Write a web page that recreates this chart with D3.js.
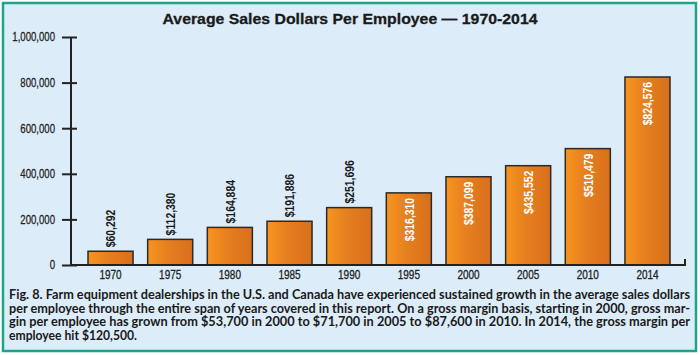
<!DOCTYPE html>
<html><head><meta charset="utf-8">
<script src="https://cdn.jsdelivr.net/npm/d3@7/dist/d3.min.js"></script>
<style>
html,body{margin:0;padding:0;background:#fff;}
svg{display:block;}
</style></head>
<body>
<svg id="c" width="700" height="355"></svg>
<script>
const years = ["1970","1975","1980","1985","1990","1995","2000","2005","2010","2014"];
const sales = [60292,112380,164884,191886,251696,316310,387099,435552,510479,824576];
const yTicks = [0,200000,400000,600000,800000,1000000];
const title = "Average Sales Dollars Per Employee \u2014 1970-2014";
const captionLines = [
  "Fig. 8. Farm equipment dealerships in the U.S. and Canada have experienced sustained growth in the average sales dollars",
  "per employee through the entire span of years covered in this report. On a gross margin basis, starting in 2000, gross mar-",
  "gin per employee has grown from $53,700 in 2000 to $71,700 in 2005 to $87,600 in 2010. In 2014, the gross margin per",
  "employee hit $120,500."
];

const svg = d3.select("#c");
const sans = "'Liberation Sans',Arial,sans-serif";
const SX = 0.8; // condensed look

// panel
svg.append("rect").attr("x",3).attr("y",3).attr("width",693).attr("height",348)
  .attr("fill","#dcecf8").attr("stroke","#1ba68a").attr("stroke-width",2.5);

const defs = svg.append("defs");
const g = defs.append("linearGradient").attr("id","barg").attr("x1","0").attr("x2","1").attr("y1","0").attr("y2","0");
g.append("stop").attr("offset","0").attr("stop-color","#f7951f");
g.append("stop").attr("offset","0.45").attr("stop-color","#e57f1f");
g.append("stop").attr("offset","1").attr("stop-color","#d96f1c");

const x = d3.scaleBand().domain(years).range([71,687]).paddingInner(0.245).paddingOuter(0.285);
const y = d3.scaleLinear().domain([0,1000000]).range([265,37]);

// title
svg.append("text").attr("x",350).attr("y",24).attr("text-anchor","middle")
  .attr("font-family",sans).attr("font-weight","bold")
  .attr("font-size",15.5).attr("fill","#1a1a1a")
  .attr("stroke","#1a1a1a").attr("stroke-width",0.3)
  .attr("textLength",375).attr("lengthAdjust","spacingAndGlyphs").text(title);

// y axis
const ya = svg.append("g").attr("transform","translate(71,0)")
  .call(d3.axisLeft(y).tickValues(yTicks).tickSize(9).tickPadding(7).tickFormat(d3.format(",")));
ya.select(".domain").attr("stroke","#222").attr("stroke-width",2).attr("d","M0,"+y(1000000)+"V"+y(0));
ya.selectAll(".tick line").attr("stroke","#222").attr("stroke-width",2).attr("x2",6).attr("x1",-9);
ya.selectAll(".tick text").attr("font-family",sans).attr("font-size",12).attr("fill","#222")
  .attr("stroke","#222").attr("stroke-width",0.25)
  .attr("x",-16/SX).attr("transform",`scale(${SX},1)`);

// bars
svg.append("g").selectAll("rect").data(sales).join("rect")
  .attr("x",(d,i)=>x(years[i])).attr("width",x.bandwidth())
  .attr("y",d=>y(d)).attr("height",d=>y(0)-y(d))
  .attr("fill","url(#barg)").attr("stroke","#2a2a2a").attr("stroke-width",1.5);

// x axis
const xa = svg.append("g").attr("transform","translate(0,265)")
  .call(d3.axisBottom(x).tickSize(0).tickPadding(5.5));
xa.select(".domain").attr("stroke","#222").attr("stroke-width",2).attr("d","M71,0H685V-6");
xa.selectAll(".tick text").attr("font-family",sans).attr("font-size",12.5).attr("fill","#222")
  .attr("stroke","#222").attr("stroke-width",0.3)
  .attr("transform",`scale(${SX},1)`);

// value labels
const fmt = d3.format("$,");
svg.append("g").selectAll("text").data(sales).join("text")
  .attr("transform",(d,i)=>{
    const cx = x(years[i]) + x.bandwidth()/2 + 4.7;
    const inside = d > 300000;
    const yy = inside ? y(d) + 5 : y(d) - 4;
    return `translate(${cx},${yy}) rotate(-90) scale(${SX},1)`;
  })
  .attr("text-anchor",d=> d>300000 ? "end" : "start")
  .attr("font-family",sans).attr("font-weight","bold").attr("font-size",13)
  .attr("fill",d=> d>300000 ? "#ffffff" : "#1a1a1a")
  .text(d=>fmt(d));

// caption
const capW = [681,681,681,128];
const cap = svg.append("g");
captionLines.forEach((t,i)=>{
  cap.append("text").attr("x",9).attr("y",299+i*13.5)
    .attr("font-family","Lato,'Open Sans',sans-serif").attr("font-weight","bold")
    .attr("font-size",12.5).attr("fill","#1a1a1a")
    .attr("textLength",capW[i]).attr("lengthAdjust","spacingAndGlyphs").text(t);
});
</script>
</body></html>
